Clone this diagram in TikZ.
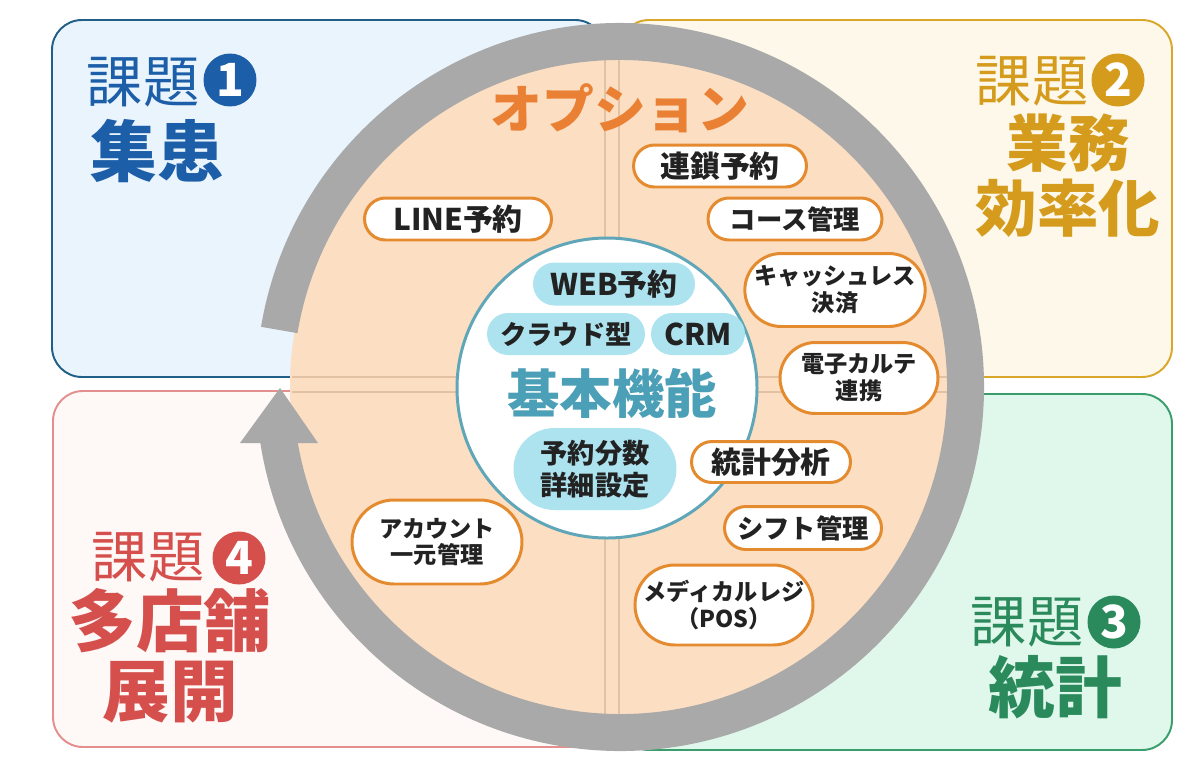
\documentclass[tikz,border=0pt]{standalone}
\usepackage{fontspec}
\setmainfont{Noto Sans CJK JP}
\usetikzlibrary{shapes.misc}
\definecolor{qoneline}{HTML}{225F86}
\definecolor{qonefill}{HTML}{E9F4FD}
\definecolor{qonetext}{HTML}{1D5EA8}
\definecolor{qtwoline}{HTML}{D9A72A}
\definecolor{qtwofill}{HTML}{FDF8E9}
\definecolor{qtwotext}{HTML}{D49B1C}
\definecolor{qthreeline}{HTML}{3A9D6C}
\definecolor{qthreefill}{HTML}{E0F7EC}
\definecolor{qthreetext}{HTML}{2B8A5C}
\definecolor{qfourline}{HTML}{E48E8E}
\definecolor{qfourfill}{HTML}{FEF8F7}
\definecolor{qfourtext}{HTML}{D5504D}
\definecolor{orfill}{HTML}{FCDEC2}
\definecolor{orline}{HTML}{E58B2F}
\definecolor{ortext}{HTML}{EA8033}
\definecolor{faintline}{HTML}{E2C2A2}
\definecolor{ringgray}{HTML}{A9A9A9}
\definecolor{innerline}{HTML}{5FA7B8}
\definecolor{basecyan}{HTML}{ADE3EF}
\definecolor{basetext}{HTML}{4B9FB6}
\definecolor{darktext}{HTML}{222222}
\begin{document}
\begin{tikzpicture}[x=0.02cm,y=-0.02cm,
  quad/.style={line width=1.1pt, rounded corners=0.6cm},
  faint/.style={draw=faintline, line width=0.6pt},
  ring/.style={draw=ringgray, line width=0.74cm, line cap=butt},
  optpill/.style={rounded rectangle, draw=orline, line width=1.7pt, fill=white,
    inner sep=0pt, text=darktext, align=center},
  basepill/.style={rounded rectangle, fill=basecyan, inner sep=0pt,
    text=darktext, align=center},
  numcirc/.style={circle, minimum size=1.06cm, inner sep=0pt, text=white,
    font=\fontsize{26pt}{26pt}\selectfont\bfseries},
  kadai/.style={font=\fontsize{32pt}{32pt}\selectfont},
  fbig/.style={font=\fontsize{17pt}{20pt}\selectfont\bfseries},
  fmid/.style={font=\fontsize{15pt}{18pt}\selectfont\bfseries},
  fsmall/.style={font=\fontsize{13.2pt}{15.3pt}\selectfont\bfseries}
]
\useasboundingbox (0,0) rectangle (1200,778);
\fill[white] (0,0) rectangle (1200,778);

% quadrant boxes
\draw[quad, draw=qoneline, fill=qonefill] (52,20) rectangle (605,377);
\draw[quad, draw=qtwoline, fill=qtwofill] (619,20) rectangle (1172,377);
\draw[quad, draw=qfourline, fill=qfourfill] (53,391) rectangle (605,747);
\draw[quad, draw=qthreeline, fill=qthreefill] (619,394) rectangle (1172,750);

% orange disc
\fill[orfill] (620,387) circle[radius=330];
\begin{scope}
  \clip (620,387) circle[radius=328];
  \draw[faint] (605,0) -- (605,778);
  \draw[faint] (619,0) -- (619,778);
  \draw[faint] (0,377) -- (1200,377);
  \draw[faint] (0,392) -- (1200,392);
\end{scope}

% ring arrow
\draw[ring] (620,387) ++(-170.5:345.5) arc[start angle=-170.5, end angle=171.5, radius=345.5];
\coordinate (hl) at (240,443);
\coordinate (hr) at (318,443);
\coordinate (tip) at (280,388);
\fill[ringgray] (hl) -- (hr) -- (tip) -- cycle;

% inner circle
\draw[draw=innerline, line width=1.7pt, fill=white] (607,388) circle[radius=150];

% titles in the quadrants
\node[kadai, text=qonetext] (k1) at (143,82) {課題};
\node[numcirc, fill=qonetext] (n1) at (230,80) {1};
\node[text=qonetext, font=\fontsize{38pt}{38pt}\selectfont\bfseries] (t1) at (157,151) {集患};

\node[kadai, text=qtwotext] (k2) at (1032,81) {課題};
\node[numcirc, fill=qtwotext] (n2) at (1118,80) {2};
\node[text=qtwotext, align=center, font=\fontsize{35pt}{37pt}\selectfont\bfseries] (t2) at (1068,176) {業務\\効率化};

\node[kadai, text=qthreetext] (k3) at (1027,622) {課題};
\node[numcirc, fill=qthreetext] (n3) at (1114,622) {3};
\node[text=qthreetext, font=\fontsize{38pt}{38pt}\selectfont\bfseries] (t3) at (1055,687) {統計};

\node[kadai, text=qfourtext] (k4) at (148,557) {課題};
\node[numcirc, fill=qfourtext] (n4) at (239,558) {4};
\node[text=qfourtext, align=center, font=\fontsize{38.5pt}{40pt}\selectfont\bfseries] (t4) at (170,656) {多店舗\\展開};

% option title
\node[text=ortext, font=\fontsize{29.5pt}{30pt}\selectfont\bfseries] (opt) at (620,108) {オプション};

% option pills
\node[optpill, fbig, minimum width=3.74cm, minimum height=0.84cm] (line) at (458,219) {LINE予約};
\node[optpill, fbig, minimum width=3.46cm, minimum height=0.84cm] (rensa) at (720,166) {連鎖予約};
\node[optpill, fmid, minimum width=3.48cm, minimum height=0.84cm] (course) at (795,219) {コース管理};
\node[optpill, fsmall, minimum width=3.52cm, minimum height=1.46cm] (cash) at (835,290) {キャッシュレス\\決済};
\node[optpill, fsmall, minimum width=3.16cm, minimum height=1.42cm] (karte) at (859,378) {電子カルテ\\連携};
\node[optpill, fbig, minimum width=3.18cm, minimum height=0.82cm] (toukei) at (771,462) {統計分析};
\node[optpill, fmid, minimum width=3.14cm, minimum height=0.86cm] (shift) at (803,528) {シフト管理};
\node[optpill, fsmall, minimum width=3.44cm, minimum height=1.60cm] (regi) at (724,605) {メディカルレジ\\（POS）};
\node[optpill, fsmall, minimum width=3.40cm, minimum height=1.68cm] (account) at (437,542) {アカウント\\一元管理};

% basic function pills
\node[basepill, fbig, minimum width=3.24cm, minimum height=0.86cm] (web) at (614,284) {WEB予約};
\node[basepill, fmid, minimum width=3.16cm, minimum height=0.84cm] (cloud) at (566,334) {クラウド型};
\node[basepill, fbig, minimum width=1.88cm, minimum height=0.84cm] (crm) at (698,334) {CRM};
\node[text=basetext, font=\fontsize{29.8pt}{30pt}\selectfont\bfseries] (kihon) at (612,393) {基本機能};
\node[basepill, font=\fontsize{15.5pt}{18pt}\selectfont\bfseries, minimum width=3.26cm, minimum height=1.64cm] (yoyaku) at (595,469) {予約分数\\詳細設定};
\end{tikzpicture}
\end{document}
